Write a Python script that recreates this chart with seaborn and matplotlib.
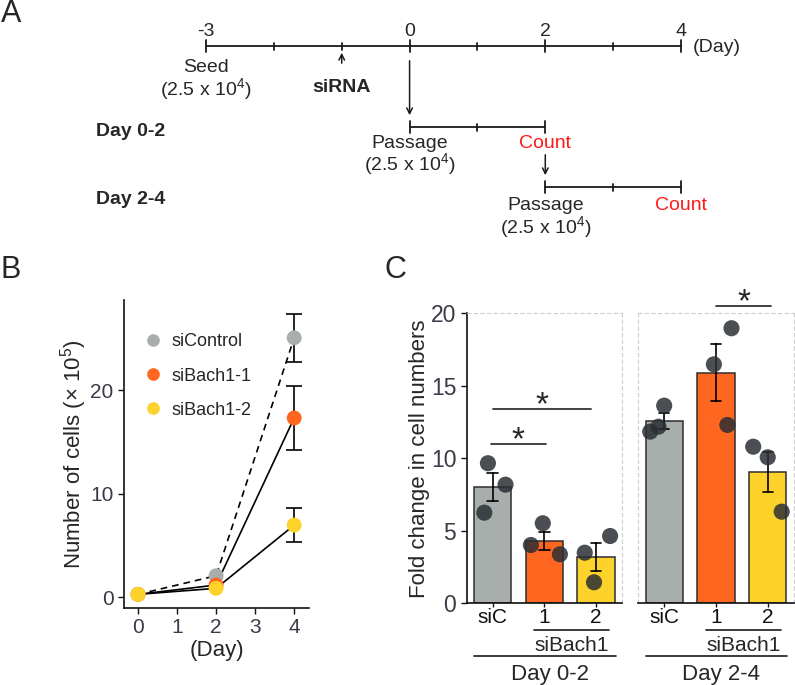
import numpy as np
import pandas as pd
import matplotlib.pyplot as plt
import matplotlib.transforms as mtransforms
import seaborn as sns

# Panel A: experiment timeline
timeline_days = [-3, -2, -1, 0, 1, 2, 3, 4]
labeled_days = [-3, 0, 2, 4]
stage_names = ["Day 0-2", "Day 2-4"]
stage_start = [0, 2]
stage_end = [2, 4]
seed_day = -3
sirna_day = -1
seed_text = "(2.5 x 10$^4$)"

# Panel B: cell numbers (x 10^5)
days = [0, 2, 4]
groups = ["siControl", "siBach1-1", "siBach1-2"]
cells_control = [0.26, 2.06, 25.05]
cells_bach1_1 = [0.26, 1.16, 17.3]
cells_bach1_2 = [0.26, 0.84, 6.95]
day4_sem = [2.3, 3.05, 1.65]

# Panel C: fold change, three replicates per bar
conditions = ["siC", "1", "2"]
d02_siC = [9.66, 8.18, 6.25]
d02_bach1_1 = [4.02, 5.52, 3.38]
d02_bach1_2 = [3.49, 4.64, 1.45]
d24_siC = [11.84, 12.18, 13.63]
d24_bach1_1 = [16.48, 18.97, 12.30]
d24_bach1_2 = [10.80, 10.07, 6.32]
# horizontal jitter of the replicate dots (category units)
jit_d02 = [[-0.09, 0.25, -0.16], [-0.26, -0.03, 0.30], [-0.22, 0.27, -0.04]]
jit_d24 = [[-0.27, -0.11, 0.0], [-0.04, 0.30, 0.22], [-0.28, 0.0, 0.27]]

gray, orange, yellow = "#A8AEAC", "#FF6720", "#FCD22B"
tick_col = "#3a3a48"

sns.set_theme(style="ticks")
plt.rcParams["font.family"] = ["Liberation Sans", "DejaVu Sans"]
plt.rcParams["mathtext.default"] = "regular"

W, H = 795, 685
fig = plt.figure(figsize=(W / 100, H / 100), dpi=100)


def px_axes(x0, y0, x1, y1):
    return fig.add_axes([x0 / W, 1 - y1 / H, (x1 - x0) / W, (y1 - y0) / H])


# ---------------- Panel A ----------------
ax_a = px_axes(206, 0, 681, 260)
ax_a.set_xlim(-3, 4)
ax_a.set_ylim(260, 0)
ax_a.axis("off")
lw = 1.3
k = "#1a1a1a"
fs = 14


def timeline(ax, start, end, y, tall):
    ax.plot([start, end], [y, y], color=k, lw=lw, clip_on=False)
    for d in timeline_days:
        if start <= d <= end:
            h = 6 if d in tall else 3.5
            ax.plot([d, d], [y - h, y + h], color=k, lw=lw, clip_on=False)


timeline(ax_a, timeline_days[0], timeline_days[-1], 46, labeled_days)
for d in labeled_days:
    ax_a.text(d, 31, str(d), ha="center", va="center", fontsize=fs)
ax_a.text(4.17, 47, "(Day)", ha="left", va="center", fontsize=fs)

ax_a.text(seed_day, 68, "Seed", ha="center", va="center", fontsize=fs)
ax_a.text(seed_day, 89, seed_text, ha="center", va="center", fontsize=fs)
ax_a.annotate("", xy=(sirna_day, 50), xytext=(sirna_day, 66),
              arrowprops=dict(arrowstyle="->", lw=1.1, color=k, mutation_scale=10))
ax_a.text(sirna_day, 88, "siRNA", ha="center", va="center", fontsize=fs, fontweight="bold")

rows = [127, 187]
arrow_from = [58, 152]
for name, s, e, y, a0 in zip(stage_names, stage_start, stage_end, rows, arrow_from):
    ax_a.annotate("", xy=(s, y - 9), xytext=(s, a0),
                  arrowprops=dict(arrowstyle="->", lw=1.1, color=k, mutation_scale=10))
    timeline(ax_a, s, e, y, [s, e])
    dy = 3 if s == 2 else 0
    ax_a.text(-4.62, y + 5 + (8 if s == 2 else 0), name, ha="left", va="center",
              fontsize=fs, fontweight="bold")
    ax_a.text(s, y + 16 + dy, "Passage", ha="center", va="center", fontsize=fs)
    ax_a.text(s, y + 37 + dy, seed_text, ha="center", va="center", fontsize=fs)
    ax_a.text(e, y + 16 + dy, "Count", ha="center", va="center",
              fontsize=fs, color="#FF1A1A")

# panel letters
for lab, x, y in [("A", 11, 14), ("B", 11, 270), ("C", 395, 270)]:
    fig.text(x / W, 1 - y / H, lab, ha="center", va="center", fontsize=22)

# ---------------- Panel B ----------------
ax_b = px_axes(124, 300, 309, 608)
df_b = pd.DataFrame({
    "day": days * 3,
    "cells": cells_control + cells_bach1_1 + cells_bach1_2,
    "group": np.repeat(groups, len(days)),
})
sns.lineplot(data=df_b, x="day", y="cells", style="group", color="black", lw=1.2,
             dashes={"siControl": (4, 3), "siBach1-1": "", "siBach1-2": ""},
             legend=False, ax=ax_b, zorder=1)
last = [cells_control[-1], cells_bach1_1[-1], cells_bach1_2[-1]]
ax_b.errorbar([days[-1]] * 3, last, yerr=day4_sem, fmt="none", ecolor="black",
              elinewidth=1.2, capsize=5.5, capthick=1.2, zorder=2)
sns.scatterplot(data=df_b, x="day", y="cells", hue="group", hue_order=groups,
                palette=[gray, orange, yellow], s=115, edgecolor="none",
                ax=ax_b, zorder=3)
leg = ax_b.legend(loc="upper left", bbox_to_anchor=(0.02, 0.915), frameon=False,
                  fontsize=13, handletextpad=0.05, labelspacing=0.95, markerscale=0.85,
                  borderaxespad=0)
ax_b.set_xlim(-0.36, 4.38)
ax_b.set_ylim(-1.06, 28.7)
ax_b.set_xticks([0, 1, 2, 3, 4])
ax_b.set_yticks([0, 10, 20])
ax_b.set_xlabel("(Day)", fontsize=16)
ax_b.set_ylabel("Number of cells (× 10$^5$)", fontsize=16)
ax_b.yaxis.set_label_coords(-0.19, 0.5)
ax_b.xaxis.set_label_coords(0.5, -0.105)
sns.despine(ax=ax_b)
for sp in ax_b.spines.values():
    sp.set_linewidth(1.2)
    sp.set_color("#111111")
ax_b.tick_params(labelsize=15, labelcolor=tick_col, length=4, width=1, color="#111111")

# ---------------- Panel C ----------------
ax_c1 = px_axes(466.7, 313.3, 622, 603.3)
ax_c2 = px_axes(638.3, 313.3, 793.6, 603.3)
panels = [
    (ax_c1, [d02_siC, d02_bach1_1, d02_bach1_2], jit_d02, "Day 0-2"),
    (ax_c2, [d24_siC, d24_bach1_1, d24_bach1_2], jit_d24, "Day 2-4"),
]
for ax, reps, jit, day_lab in panels:
    df = pd.DataFrame({
        "cond": np.repeat(conditions, 3),
        "fold": np.concatenate(reps),
    })
    sns.barplot(data=df, x="cond", y="fold", hue="cond", order=conditions,
                palette=[gray, orange, yellow], saturation=1, errorbar="se", capsize=0.2,
                err_kws={"color": "black", "linewidth": 1.2}, width=0.72,
                edgecolor="#2d2d2d", linewidth=1.1, legend=False, ax=ax, zorder=2)
    xs = np.concatenate([i + np.array(j) for i, j in enumerate(jit)])
    sns.scatterplot(x=xs, y=df["fold"].values, color="#2b2f34", alpha=0.85, s=135,
                    edgecolor="none", ax=ax, zorder=4)
    ax.set_xlim(-0.5, 2.5)
    ax.set_ylim(0, 20)
    ax.set_xlabel("")
    ax.set_xticks([0, 1, 2])
    ax.set_xticklabels(conditions)
    ax.tick_params(axis="x", labelsize=15, length=3, width=1, color="#111111", pad=0.5,
                   labelcolor="#111111")
    for side in ["top", "right", "left"]:
        ax.spines[side].set_linestyle((0, (3, 3)))
        ax.spines[side].set_color("#cccccc")
        ax.spines[side].set_linewidth(0.8)
    ax.spines["bottom"].set_color("#111111")
    ax.spines["bottom"].set_linewidth(1.2)

    tr = mtransforms.blended_transform_factory(ax.transData, ax.transAxes)
    ax.plot([0.8, 2.25], [-0.093, -0.093], color=k, lw=1.2, transform=tr, clip_on=False)
    ax.text(1.53, -0.146, "siBach1", transform=tr, ha="center", va="center", fontsize=15)
    ax.plot([-0.36, 2.38], [-0.18, -0.18], color=k, lw=1.2, transform=tr, clip_on=False)
    ax.text(1.1, -0.245, day_lab, transform=tr, ha="center", va="center", fontsize=16)

ax_c1.spines["left"].set_linestyle("-")
ax_c1.spines["left"].set_color("#111111")
ax_c1.spines["left"].set_linewidth(1.2)
ax_c1.set_yticks([0, 5, 10, 15, 20])
ax_c1.tick_params(axis="y", labelsize=16.5, labelcolor=tick_col, length=4, width=1,
                  color="#111111")
ax_c1.set_ylabel("Fold change in cell numbers", fontsize=16)
ax_c1.yaxis.set_label_coords(-0.236, 0.5)
ax_c2.set_ylabel("")
ax_c2.set_yticks([])

# significance marks
sig = [(ax_c1, -0.03, 1.03, 11.0), (ax_c1, 0.0, 1.91, 13.42), (ax_c2, 1.0, 2.07, 20.5)]
for ax, x0, x1, y in sig:
    ax.plot([x0, x1], [y, y], color="#333333", lw=1.3, clip_on=False)
    ax.text((x0 + x1) / 2, y + 0.2, "*", ha="center", va="center", fontsize=24,
            clip_on=False)

fig.savefig("out.png", dpi=100)
